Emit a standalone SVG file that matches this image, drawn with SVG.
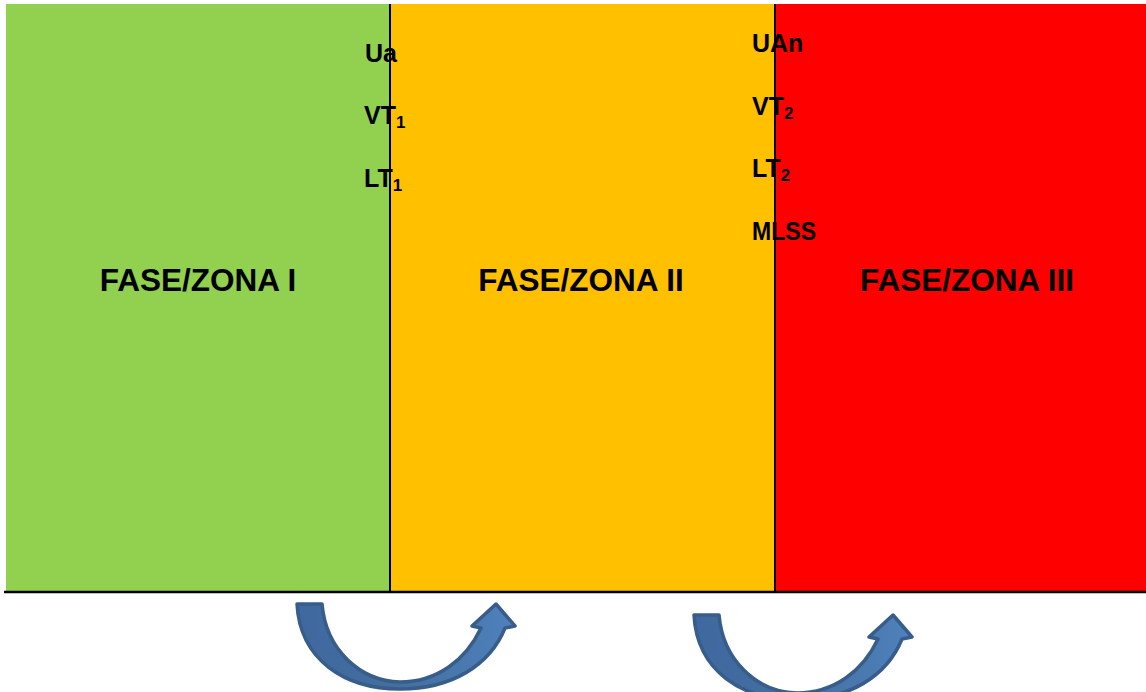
<svg xmlns="http://www.w3.org/2000/svg" width="1146" height="692" viewBox="0 0 1146 692">
<style>
.zone{font-family:"Liberation Sans",Arial,sans-serif;font-weight:bold;font-size:31.5px;fill:#000;text-anchor:middle}
.lbl{font-family:"Liberation Sans",Arial,sans-serif;font-weight:bold;font-size:25px;fill:#000}
.sub{font-size:17px}
.div{stroke:#000;stroke-width:2}
.arrow{stroke:#385D8A;stroke-width:3.5;stroke-linejoin:round;fill:url(#ag)}
</style>
<defs>
<linearGradient id="ag" x1="0" y1="0" x2="1" y2="0">
<stop offset="0" stop-color="#3F68A0"/>
<stop offset="0.5" stop-color="#44709F"/>
<stop offset="1" stop-color="#4F81BD"/>
</linearGradient>
<path id="curv" d="M297,604 L322,604 C326,650 360,681 400,682 C437,682 466,660 481,628 L472,626 L496,604 L515,626 L505,628 C490,665 452,689 400,689 C345,689 300,660 297,604 Z"/>
</defs>
<g id="zone1">
<rect x="6" y="4" width="384" height="587" fill="#92D050"/>
<text class="zone" x="198" y="291">FASE/ZONA I</text>
</g>
<g id="zone2">
<rect x="390" y="4" width="385" height="587" fill="#FFC000"/>
<text class="zone" x="581" y="291">FASE/ZONA II</text>
</g>
<g id="zone3">
<rect x="775" y="4" width="371" height="587" fill="#FF0000"/>
<text class="zone" x="967" y="291">FASE/ZONA III</text>
</g>
<g id="labels1">
<text class="lbl" x="365" y="62">Ua</text>
<text class="lbl" x="364" y="124">VT<tspan class="sub" dy="4">1</tspan></text>
<text class="lbl" x="364" y="187">LT<tspan class="sub" dy="4">1</tspan></text>
</g>
<g id="labels2">
<text class="lbl" x="752" y="52">UAn</text>
<text class="lbl" x="752" y="115">VT<tspan class="sub" dy="4">2</tspan></text>
<text class="lbl" x="752" y="177">LT<tspan class="sub" dy="4">2</tspan></text>
<text class="lbl" x="752" y="240" textLength="64" lengthAdjust="spacingAndGlyphs">MLSS</text>
</g>
<g id="connectors">
<line class="div" x1="390" y1="4" x2="390" y2="592"/>
<line class="div" x1="775" y1="4" x2="775" y2="592"/>
<line x1="4" y1="592" x2="1146" y2="592" stroke="#000" stroke-width="2.5"/>
<use href="#curv" class="arrow"/>
<use href="#curv" class="arrow" transform="translate(397,11)"/>
</g>
</svg>
